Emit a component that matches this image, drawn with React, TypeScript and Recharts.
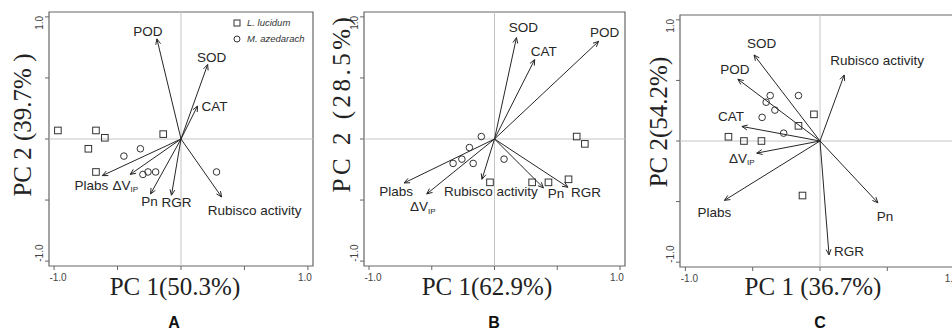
import {
  ScatterChart,
  Scatter,
  XAxis,
  YAxis,
  ReferenceLine,
  ReferenceArea,
  Legend,
} from "recharts";

// PCA scores and loadings
const lucidumA = [
  { x: -0.97, y: 0.07 },
  { x: -0.67, y: 0.07 },
  { x: -0.6, y: 0.01 },
  { x: -0.73, y: -0.08 },
  { x: -0.67, y: -0.27 },
  { x: -0.14, y: 0.04 },
];
const azedarachA = [
  { x: -0.32, y: -0.08 },
  { x: -0.45, y: -0.14 },
  { x: -0.2, y: -0.27 },
  { x: -0.26, y: -0.27 },
  { x: -0.3, y: -0.29 },
  { x: 0.28, y: -0.27 },
];
const vectorsA = [
  { name: "POD", x: -0.19, y: 0.82 },
  { name: "SOD", x: 0.21, y: 0.61 },
  { name: "CAT", x: 0.13, y: 0.27 },
  { name: "Plabs", x: -0.62, y: -0.3 },
  { name: "ΔVIP", x: -0.4, y: -0.29 },
  { name: "Pn", x: -0.24, y: -0.45 },
  { name: "RGR", x: -0.075, y: -0.46 },
  { name: "Rubisco activity", x: 0.32, y: -0.475 },
];

const lucidumB = [
  { x: 0.655, y: 0.02 },
  { x: 0.72, y: -0.04 },
  { x: 0.59, y: -0.33 },
  { x: 0.43, y: -0.355 },
  { x: 0.3, y: -0.355 },
  { x: -0.036, y: -0.355 },
];
const azedarachB = [
  { x: -0.105, y: 0.02 },
  { x: -0.2, y: -0.07 },
  { x: -0.26, y: -0.165 },
  { x: -0.33, y: -0.2 },
  { x: -0.17, y: -0.2 },
  { x: 0.076, y: -0.165 },
];
const vectorsB = [
  { name: "SOD", x: 0.175, y: 0.83 },
  { name: "CAT", x: 0.32, y: 0.65 },
  { name: "POD", x: 0.83, y: 0.8 },
  { name: "Plabs", x: -0.72, y: -0.36 },
  { name: "ΔVIP", x: -0.54, y: -0.45 },
  { name: "Rubisco activity", x: -0.1, y: -0.33 },
  { name: "Pn", x: 0.39, y: -0.4 },
  { name: "RGR", x: 0.585, y: -0.395 },
];

const lucidumC = [
  { x: -0.68, y: 0.035 },
  { x: -0.565, y: 0.0 },
  { x: -0.435, y: 0.0 },
  { x: -0.16, y: 0.125 },
  { x: -0.045, y: 0.22 },
  { x: -0.13, y: -0.45 },
];
const azedarachC = [
  { x: -0.37, y: 0.375 },
  { x: -0.16, y: 0.375 },
  { x: -0.4, y: 0.32 },
  { x: -0.335, y: 0.255 },
  { x: -0.43, y: 0.195 },
  { x: -0.27, y: 0.065 },
];
const vectorsC = [
  { name: "SOD", x: -0.49, y: 0.71 },
  { name: "POD", x: -0.61, y: 0.51 },
  { name: "CAT", x: -0.58, y: 0.12 },
  { name: "ΔVIP", x: -0.47, y: -0.1 },
  { name: "Plabs", x: -0.71, y: -0.49 },
  { name: "Rubisco activity", x: 0.18, y: 0.545 },
  { name: "Pn", x: 0.43, y: -0.51 },
  { name: "RGR", x: 0.067, y: -0.94 },
];

const ticks = [-1, -0.5, 0, 0.5, 1];

// label offsets (px) from each arrow tip
const offA: Record<string, [number, number]> = {
  POD: [-9, -7],
  SOD: [4, -7],
  CAT: [17, 0],
  Plabs: [-11, 10],
  ΔVIP: [-5, 11],
  Pn: [-1, 8],
  RGR: [5, 7],
  "Rubisco activity": [33, 13],
};
const offB: Record<string, [number, number]> = {
  SOD: [7, -10],
  CAT: [9, -8],
  POD: [6, -9],
  Plabs: [-8, 9],
  ΔVIP: [-4, 13],
  "Rubisco activity": [9, 12.5],
  Pn: [12.5, 6],
  RGR: [18, 5],
};
const offC: Record<string, [number, number]> = {
  SOD: [7.5, -11],
  POD: [-3, -10],
  CAT: [-11, -10],
  ΔVIP: [-15, 5],
  Plabs: [-10, 12],
  "Rubisco activity": [33, -14.5],
  Pn: [7, 14],
  RGR: [20, -3],
};

const SANS = "'Liberation Sans', Arial, sans-serif";
const SERIF = "'Liberation Serif', 'Times New Roman', serif";
const INK = "#262626";
const BOX = "#666";

const renderArrow = (p: any, name: string, off: [number, number]) => {
  const { x1, y1, x2, y2 } = p;
  const ang = Math.atan2(y2 - y1, x2 - x1);
  const L = 6;
  const a = 0.42;
  const h1 = [x2 - L * Math.cos(ang - a), y2 - L * Math.sin(ang - a)];
  const h2 = [x2 - L * Math.cos(ang + a), y2 - L * Math.sin(ang + a)];
  const tx = x2 + off[0];
  const ty = y2 + off[1];
  return (
    <g>
      <line x1={x1} y1={y1} x2={x2} y2={y2} stroke={INK} strokeWidth={1} />
      <polyline
        points={`${h1[0]},${h1[1]} ${x2},${y2} ${h2[0]},${h2[1]}`}
        fill="none"
        stroke={INK}
        strokeWidth={1}
      />
      {name === "ΔVIP" ? (
        <text x={tx} y={ty} textAnchor="middle" dominantBaseline="central" fontFamily={SANS} fontSize={13.5} fill={INK}>
          ΔV
          <tspan fontSize={8} dy={4}>
            IP
          </tspan>
        </text>
      ) : (
        <text x={tx} y={ty} textAnchor="middle" dominantBaseline="central" fontFamily={SANS} fontSize={13.5} fill={INK}>
          {name}
        </text>
      )}
    </g>
  );
};

const XTick = (props: any) => {
  const { x, y, payload } = props;
  const v = payload.value;
  if (Math.abs(v) !== 1) return null;
  return (
    <text x={x + (v < 0 ? 4 : -3)} y={y + 9} textAnchor="middle" fontFamily={SANS} fontSize={10} fill="#444">
      {v.toFixed(1)}
    </text>
  );
};

const YTick = (props: any) => {
  const { x, y, payload } = props;
  const v = payload.value;
  if (Math.abs(v) !== 1) return null;
  const cy = y + (v > 0 ? 6 : -8);
  return (
    <text
      x={x}
      y={cy}
      transform={`rotate(-90 ${x} ${cy})`}
      textAnchor="middle"
      fontFamily={SANS}
      fontSize={10}
      fill="#444"
    >
      {v.toFixed(1)}
    </text>
  );
};

const Square = (p: any) => (
  <rect x={p.cx - 3.3} y={p.cy - 3.3} width={6.6} height={6.6} fill="none" stroke="#333" strokeWidth={1} />
);
const Circle = (p: any) => <circle cx={p.cx} cy={p.cy} r={3.3} fill="none" stroke="#333" strokeWidth={1} />;

const LegendBox = (props: any) => {
  const payload = props.payload || [];
  return (
    <div style={{ fontFamily: SANS, fontSize: 9.5, fontStyle: "italic", color: "#333", lineHeight: "16px" }}>
      {payload.map((e: any, i: number) => (
        <div key={i} style={{ display: "flex", alignItems: "center" }}>
          <svg width={14} height={10}>
            {i === 0 ? (
              <rect x={1} y={2} width={6} height={6} fill="none" stroke="#333" />
            ) : (
              <circle cx={4} cy={5} r={3} fill="none" stroke="#333" />
            )}
          </svg>
          <span>{e.value}</span>
        </div>
      ))}
    </div>
  );
};

type PanelProps = {
  left: number;
  width: number;
  plot: { left: number; right: number; top: number; bottom: number };
  squares: { x: number; y: number }[];
  circles: { x: number; y: number }[];
  vectors: { name: string; x: number; y: number }[];
  offsets: Record<string, [number, number]>;
  legend?: boolean;
};

const Panel = ({ left, width, plot, squares, circles, vectors, offsets, legend }: PanelProps) => {
  const margin = {
    top: plot.top,
    right: width - (plot.right - left),
    bottom: 332 - plot.bottom - 20,
    left: plot.left - left - 30,
  };
  return (
    <div style={{ position: "absolute", left, top: 0 }}>
      <ScatterChart width={width} height={332} margin={margin}>
        <XAxis
          type="number"
          dataKey="x"
          domain={[-1.04, 1.04]}
          ticks={ticks}
          allowDataOverflow
          axisLine={false}
          tickSize={4}
          tickMargin={2}
          tickLine={{ stroke: BOX }}
          tick={<XTick />}
          height={20}
        />
        <YAxis
          type="number"
          dataKey="y"
          domain={[-1.04, 1.04]}
          ticks={ticks}
          allowDataOverflow
          axisLine={false}
          tickSize={4}
          tickMargin={2}
          tickLine={{ stroke: BOX }}
          tick={<YTick />}
          width={30}
        />
        <ReferenceLine x={0} stroke="#c4c4c4" strokeWidth={1} />
        <ReferenceLine y={0} stroke="#c4c4c4" strokeWidth={1} />
        <ReferenceArea x1={-1.04} x2={1.04} y1={-1.04} y2={1.04} fill="none" fillOpacity={0} stroke={BOX} strokeWidth={1.2} />
        {vectors.map((v) => (
          <ReferenceLine
            key={v.name}
            segment={[
              { x: 0, y: 0 },
              { x: v.x, y: v.y },
            ]}
            shape={(p: any) => renderArrow(p, v.name, offsets[v.name])}
          />
        ))}
        <Scatter name="L. lucidum" data={squares} shape={Square} isAnimationActive={false} />
        <Scatter name="M. azedarach" data={circles} shape={Circle} isAnimationActive={false} />
        {legend && (
          <Legend
            layout="vertical"
            align="center"
            verticalAlign="middle"
            content={<LegendBox />}
            wrapperStyle={{ left: 233, top: 15, width: "auto", height: "auto" }}
          />
        )}
      </ScatterChart>
    </div>
  );
};

const titles = [
  { x: 175, y: 295, text: "PC 1(50.3%)" },
  { x: 487, y: 295, text: "PC 1(62.9%)" },
  { x: 813, y: 295, text: "PC 1 (36.7%)" },
];
const yTitles = [
  { x: 31, y: 125, text: "PC 2 (39.7% )", ls: 0 },
  { x: 350, y: 103, text: "PC 2 (28.5%)", ls: 3.5 },
  { x: 667, y: 122, text: "PC 2(54.2%)", ls: 0 },
];
const letters = [
  { x: 174, text: "A" },
  { x: 494, text: "B" },
  { x: 820, text: "C" },
];

export default function App() {
  return (
    <div style={{ position: "absolute", left: 0, top: 0, width: 952, height: 332, overflow: "hidden", background: "#fff" }}>
      <Panel
        left={0}
        width={320}
        plot={{ left: 49, right: 313, top: 12, bottom: 266 }}
        squares={lucidumA}
        circles={azedarachA}
        vectors={vectorsA}
        offsets={offA}
        legend
      />
      <Panel
        left={320}
        width={315}
        plot={{ left: 364, right: 625, top: 12, bottom: 266 }}
        squares={lucidumB}
        circles={azedarachB}
        vectors={vectorsB}
        offsets={offB}
      />
      <Panel
        left={632}
        width={340}
        plot={{ left: 680, right: 960, top: 15, bottom: 267 }}
        squares={lucidumC}
        circles={azedarachC}
        vectors={vectorsC}
        offsets={offC}
      />
      <svg width={952} height={332} style={{ position: "absolute", left: 0, top: 0, pointerEvents: "none" }}>
        {titles.map((t) => (
          <text key={t.text} x={t.x} y={t.y} textAnchor="middle" fontFamily={SERIF} fontSize={25} fill="#222">
            {t.text}
          </text>
        ))}
        {yTitles.map((t) => (
          <text
            key={t.text}
            x={t.x}
            y={t.y}
            transform={`rotate(-90 ${t.x} ${t.y})`}
            textAnchor="middle"
            fontFamily={SERIF}
            fontSize={25}
            letterSpacing={t.ls}
            fill="#222"
          >
            {t.text}
          </text>
        ))}
        {letters.map((t) => (
          <text key={t.text} x={t.x} y={328} textAnchor="middle" fontFamily={SANS} fontWeight="bold" fontSize={16} fill="#111">
            {t.text}
          </text>
        ))}
      </svg>
    </div>
  );
}
